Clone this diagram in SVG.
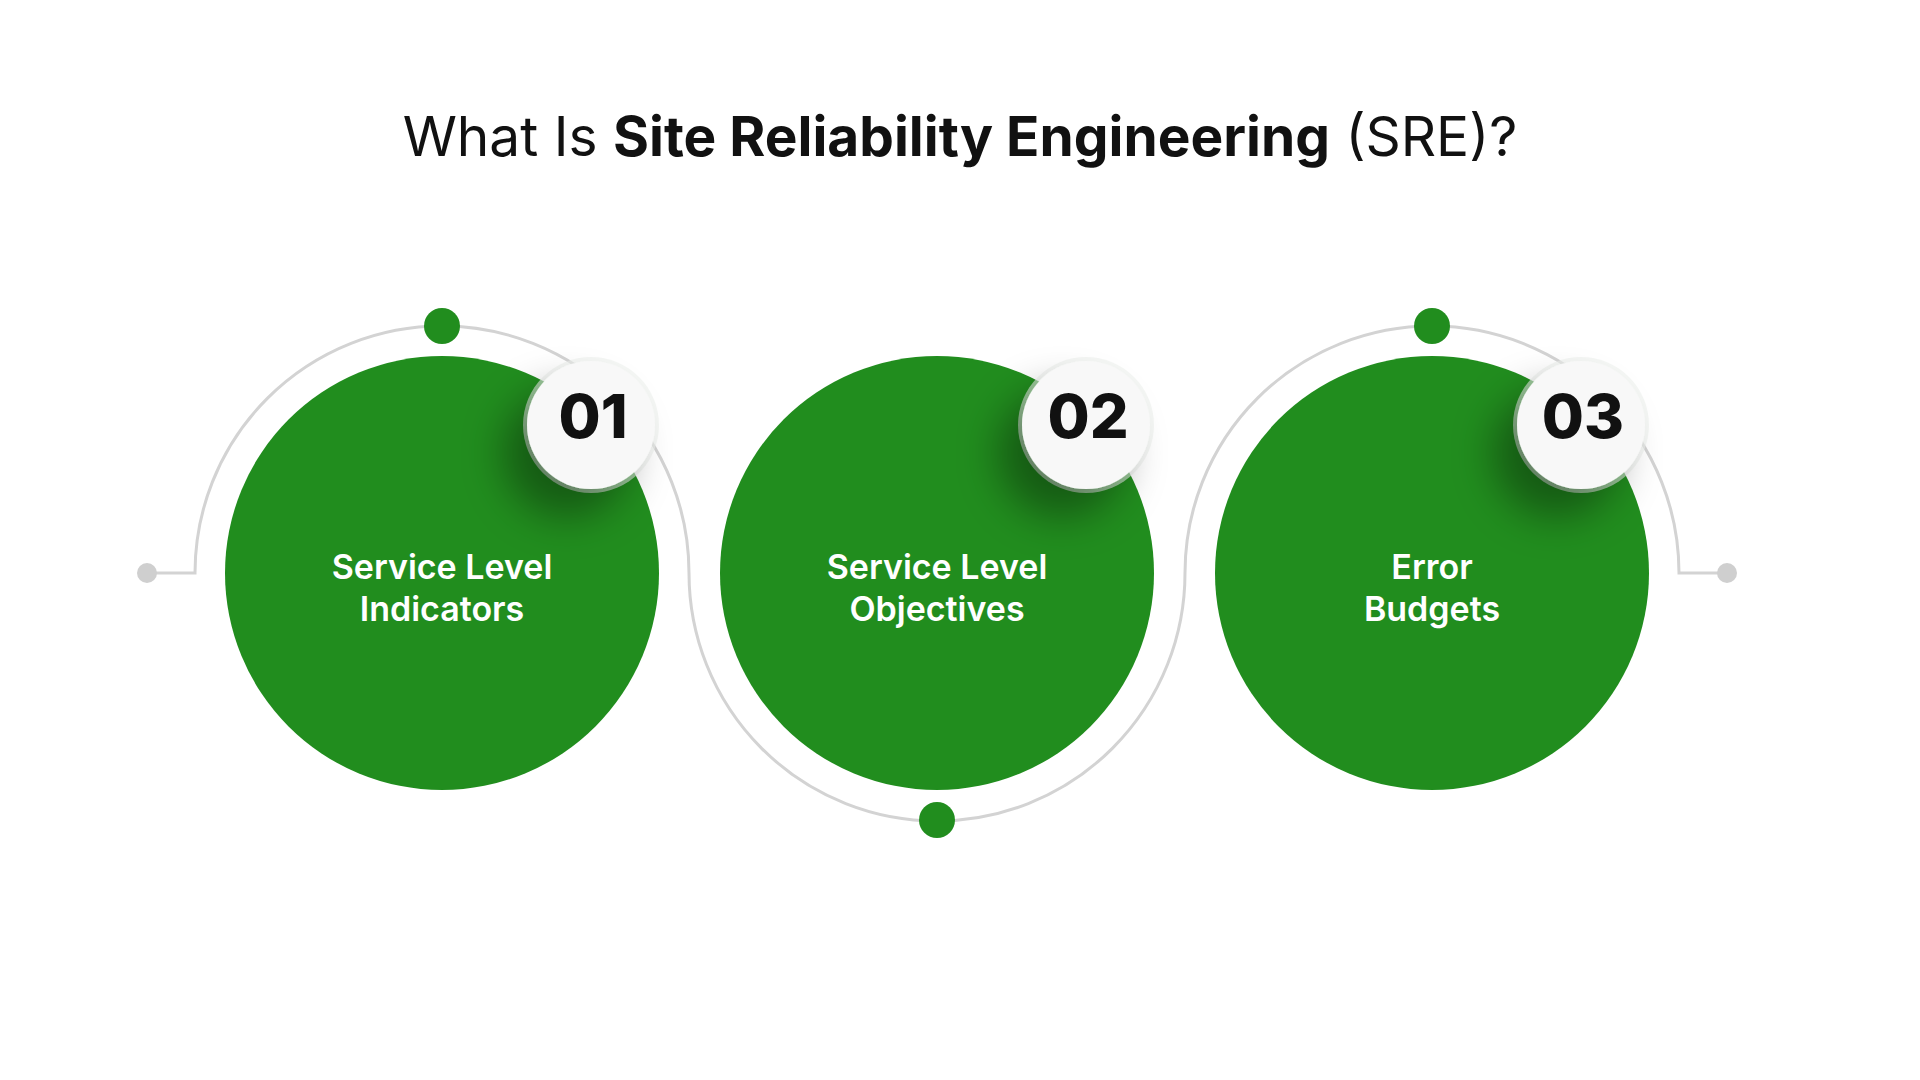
<svg xmlns="http://www.w3.org/2000/svg" width="1920" height="1080" viewBox="0 0 1920 1080">
  <defs>
    <style>
      .title { font-family: Inter, "Liberation Sans", sans-serif; font-size: 55px; fill: #111111; }
      .title .b { font-weight: 700; }
      .disc { fill: #218D1E; }
      .label { font-family: Inter, "Liberation Sans", sans-serif; font-size: 34px; font-weight: 600; fill: #ffffff; text-anchor: middle; }
      .badge { fill: #f8f8f8; }
      .halo { fill: #edf0ed; opacity: 0.6; }
      .num { font-family: Inter, "Liberation Sans", sans-serif; font-size: 61px; font-weight: 800; fill: #111111; text-anchor: middle; }
      .track { fill: none; stroke: #d3d3d3; stroke-width: 3; }
      .gdot { fill: #218D1E; }
      .edot { fill: #cfcfcf; }
    </style>
    <filter id="shadow" x="-100%" y="-100%" width="300%" height="300%">
      <feGaussianBlur in="SourceAlpha" stdDeviation="20"/>
      <feOffset dx="-24" dy="28" result="blur"/>
      <feFlood flood-color="#000000" flood-opacity="0.36"/>
      <feComposite in2="blur" operator="in" result="sh"/>
      <feMerge>
        <feMergeNode in="sh"/>
        <feMergeNode in="SourceGraphic"/>
      </feMerge>
    </filter>
  </defs>

  <rect width="1920" height="1080" fill="#ffffff"/>

  <text class="title" x="960" y="156" text-anchor="middle">What Is <tspan class="b">Site Reliability Engineering</tspan> (SRE)?</text>

  <g id="connectors">
    <path class="track" d="M147,573 H195 A247,247 0 0 1 689,573 A248,248 0 0 0 1185,573 A247,247 0 0 1 1679,573 H1727"/>
    <circle class="edot" cx="147" cy="573" r="10"/>
    <circle class="edot" cx="1727" cy="573" r="10"/>
    <circle class="gdot" cx="442" cy="326" r="18"/>
    <circle class="gdot" cx="937" cy="820" r="18"/>
    <circle class="gdot" cx="1432" cy="326" r="18"/>
  </g>

  <g id="node-01">
    <circle class="disc" cx="442" cy="573" r="217"/>
    <text class="label" x="442" y="579">Service Level</text>
    <text class="label" x="442" y="621">Indicators</text>
    <circle class="halo" cx="591" cy="425" r="68"/>
    <circle class="badge" cx="591" cy="425" r="64" filter="url(#shadow)"/>
    <text class="num" x="593" y="438">01</text>
  </g>

  <g id="node-02">
    <circle class="disc" cx="937" cy="573" r="217"/>
    <text class="label" x="937" y="579">Service Level</text>
    <text class="label" x="937" y="621">Objectives</text>
    <circle class="halo" cx="1086" cy="425" r="68"/>
    <circle class="badge" cx="1086" cy="425" r="64" filter="url(#shadow)"/>
    <text class="num" x="1088" y="438">02</text>
  </g>

  <g id="node-03">
    <circle class="disc" cx="1432" cy="573" r="217"/>
    <text class="label" x="1432" y="579">Error</text>
    <text class="label" x="1432" y="621">Budgets</text>
    <circle class="halo" cx="1581" cy="425" r="68"/>
    <circle class="badge" cx="1581" cy="425" r="64" filter="url(#shadow)"/>
    <text class="num" x="1583" y="438">03</text>
  </g>
</svg>
